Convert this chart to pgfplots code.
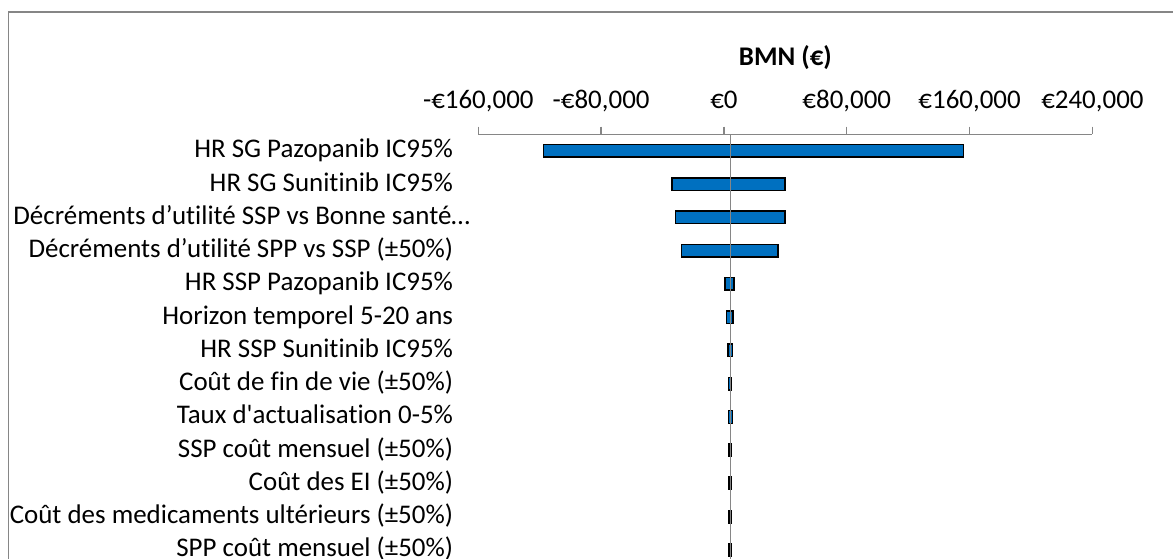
\documentclass[border=0pt]{standalone}
\usepackage{pgfplots}
\pgfplotsset{compat=1.18}
\usepackage{fontspec}
\setmainfont{Carlito}[Ligatures=NoCommon]
\definecolor{barblue}{RGB}{0,112,192}
\definecolor{axgray}{RGB}{134,134,134}
\begin{document}
\begin{tikzpicture}
\useasboundingbox (0,0) rectangle (879.75pt,-419.25pt);
\clip (0,0) rectangle (879.75pt,-419.25pt);
\fill[white] (0,0) rectangle (879.75pt,-419.25pt);
\draw[axgray, line width=1pt] (6.4pt,-600pt) -- (6.4pt,-9pt) -- (900pt,-9pt);
\node[font=\fontsize{20.2}{24}\selectfont\bfseries, anchor=base] at (589pt,-49.3pt) {BMN (€)};
\begin{axis}[
  at={(358.725pt,-100.7pt)}, anchor=north west,
  width=460.575pt, height=336.7pt, scale only axis,
  xmin=-160000, xmax=240000,
  ymin=-1, ymax=12.5,
  axis x line*=top, axis y line*=left,
  x axis line style={axgray, line width=1pt, -},
  y axis line style={draw=none},
  xtick={-160000,-80000,0,80000,160000,240000},
  xticklabels={{-€160,000},{-€80,000},{€0},{€80,000},{€160,000},{€240,000}},
  tick align=outside, major tick length=5.7pt,
  xtick style={axgray, line width=1pt},
  ytick={0,...,12},
  ytick style={draw=none},
  yticklabels={
    {SPP coût mensuel (±50\%)},
    {Coût des medicaments ultérieurs (±50\%)},
    {Coût des EI (±50\%)},
    {SSP coût mensuel (±50\%)},
    {Taux d\textquotesingle actualisation 0-5\%},
    {Coût de fin de vie (±50\%)},
    {HR SSP Sunitinib IC95\%},
    {Horizon temporel 5-20 ans},
    {HR SSP Pazopanib IC95\%},
    {Décréments d’utilité SPP vs SSP (±50\%)},
    {Décréments d’utilité SSP vs Bonne santé…\kern-12.75pt},
    {HR SG Sunitinib IC95\%},
    {HR SG Pazopanib IC95\%}},
  xticklabel style={font=\fontsize{20.2}{24}\selectfont, anchor=base, inner sep=0pt, yshift=13.3pt},
  yticklabel style={font=\fontsize{20.2}{24}\selectfont, anchor=base east, inner sep=0pt, xshift=-13.05pt, yshift=-5.25pt},
  scaled x ticks=false,
  clip=false,
  bar/.style={fill=barblue, draw=black, line width=1.1pt},
]
% each bar: from low to high value
\addplot[bar] coordinates {(-117700,11.81) (155900,11.81) (155900,12.19) (-117700,12.19)} --cycle;
\addplot[bar] coordinates {(-33700,10.81) (39700,10.81) (39700,11.19) (-33700,11.19)} --cycle;
\addplot[bar] coordinates {(-31700,9.81) (39700,9.81) (39700,10.19) (-31700,10.19)} --cycle;
\addplot[bar] coordinates {(-27600,8.81) (35200,8.81) (35200,9.19) (-27600,9.19)} --cycle;
\addplot[bar] coordinates {(650,7.81) (6500,7.81) (6500,8.19) (650,8.19)} --cycle;
\addplot[bar] coordinates {(1700,6.81) (5900,6.81) (5900,7.19) (1700,7.19)} --cycle;
\addplot[bar] coordinates {(2600,5.81) (5600,5.81) (5600,6.19) (2600,6.19)} --cycle;
\addplot[bar] coordinates {(2800,4.81) (4600,4.81) (4600,5.19) (2800,5.19)} --cycle;
\addplot[bar] coordinates {(2800,3.81) (5600,3.81) (5600,4.19) (2800,4.19)} --cycle;
\addplot[bar] coordinates {(3400,2.81) (4500,2.81) (4500,3.19) (3400,3.19)} --cycle;
\addplot[bar] coordinates {(3400,1.81) (4500,1.81) (4500,2.19) (3400,2.19)} --cycle;
\addplot[bar] coordinates {(3400,0.81) (4500,0.81) (4500,1.19) (3400,1.19)} --cycle;
\addplot[bar] coordinates {(3400,-0.19) (4500,-0.19) (4500,0.19) (3400,0.19)} --cycle;
% base-case line
\addplot[axgray, line width=1.1pt] coordinates {(4100,-1) (4100,12.5)};
\end{axis}
\end{tikzpicture}
\end{document}
